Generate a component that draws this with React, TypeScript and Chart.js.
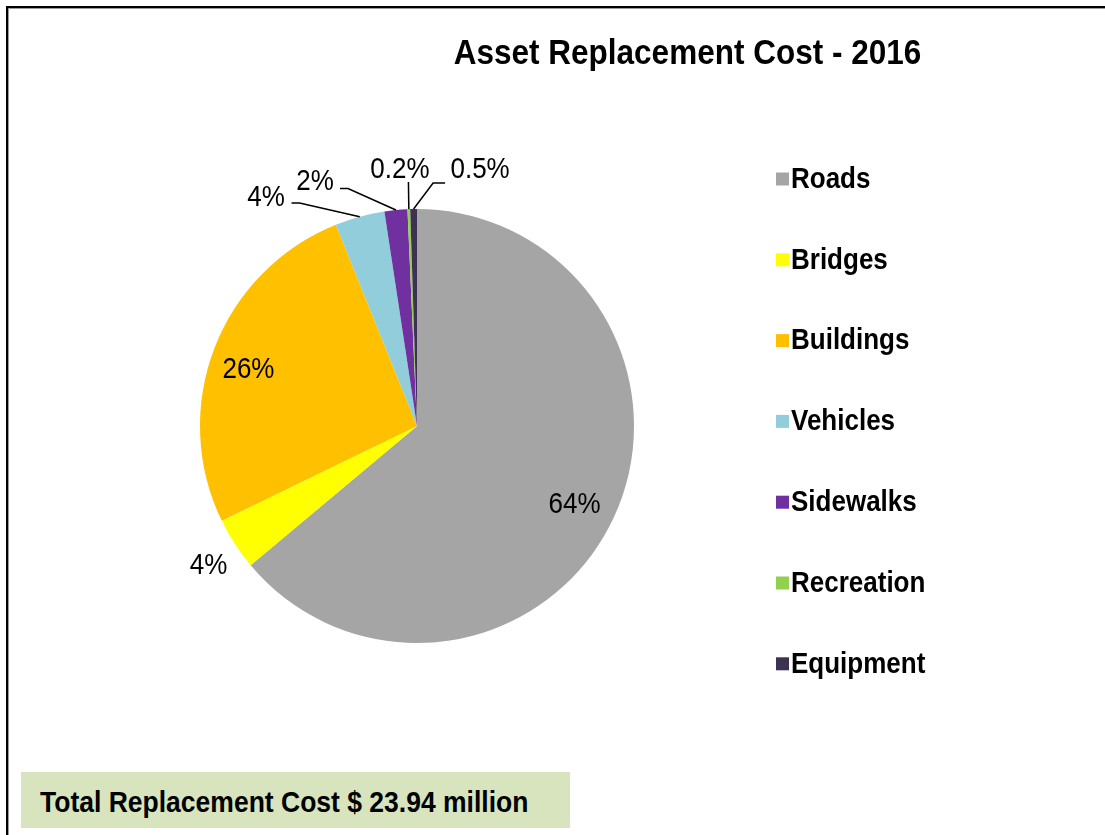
import React, { useEffect, useRef } from "react";
import { Chart, registerables } from "chart.js";

Chart.register(...registerables);

// ---------- data ----------
const TITLE = "Asset Replacement Cost - 2016";
const CATEGORIES = ["Roads", "Bridges", "Buildings", "Vehicles", "Sidewalks", "Recreation", "Equipment"];
const SHARE_PERCENT = [63.9, 3.9, 26.1, 3.7, 1.7, 0.2, 0.5];
const DISPLAY_LABELS = ["64%", "4%", "26%", "4%", "2%", "0.2%", "0.5%"];
const TOTAL_NOTE = "Total Replacement Cost $ 23.94 million";

// ---------- styles ----------
const COLORS = ["#A5A5A5", "#FFFF00", "#FFC000", "#92CDDC", "#7030A0", "#92D050", "#3F3151"];
const FONT = "Arial, 'Liberation Sans', sans-serif";
const TEXT_STRETCH_Y = 1.1;

// label placement relative to the pie: r = fraction of radius, a = angle (deg clockwise from top, default slice middle)
const LABEL_LAYOUT: any[] = [
  { r: 0.811, a: 116.5 },
  { r: 1.155, a: 236.3 },
  { r: 0.82, a: 288.7 },
  { r: 1.264, a: 326.6, leader: { ex: 33.5, ey: 6, hx: 25.5 } },
  { r: 1.223, a: 337.4, leader: { ex: 33, ey: 7.5, hx: 25 } },
  { r: 1.187, a: 356.2, leader: { ex: 8.5, ey: 13, hx: 8.5 } },
  { r: 1.219, a: 13.8, leader: { ex: -47, ey: 14, hx: -35 } },
];

const LEGEND_X = 776;
const LEGEND_Y0 = 179;
const LEGEND_STEP = 80.8;

function drawText(ctx: any, text: string, x: number, y: number) {
  ctx.save();
  ctx.translate(x, y);
  ctx.scale(1, TEXT_STRETCH_Y);
  ctx.fillText(text, 0, 0);
  ctx.restore();
}

const decorPlugin = {
  id: "decor",
  beforeDraw(chart: any) {
    const ctx = chart.ctx;
    ctx.save();
    ctx.fillStyle = "#ffffff";
    ctx.fillRect(0, 0, chart.width, chart.height);
    // outer frame (extends past right/bottom edges)
    ctx.fillStyle = "#000000";
    ctx.fillRect(6, 6, 2, chart.height - 6);
    ctx.fillRect(6, 6, chart.width - 6, 2);
    ctx.fillStyle = "#9a9a9a";
    ctx.fillRect(8, 8, 1, chart.height - 8);
    ctx.fillRect(8, 8, chart.width - 8, 1);
    ctx.restore();
  },
  afterDraw(chart: any) {
    const ctx = chart.ctx;
    ctx.save();
    // title
    ctx.fillStyle = "#000000";
    ctx.font = `bold 31.5px ${FONT}`;
    ctx.textAlign = "center";
    ctx.textBaseline = "middle";
    drawText(ctx, TITLE, 687.5, 54);

    // legend
    ctx.font = `bold 26px ${FONT}`;
    ctx.textAlign = "left";
    CATEGORIES.forEach((name, i) => {
      const cy = LEGEND_Y0 + i * LEGEND_STEP;
      ctx.fillStyle = COLORS[i];
      ctx.fillRect(LEGEND_X, cy - 6.5, 13, 13);
      ctx.fillStyle = "#000000";
      drawText(ctx, name, LEGEND_X + 15, cy + 1);
    });

    // data labels
    const meta = chart.getDatasetMeta(0);
    ctx.font = `26px ${FONT}`;
    ctx.textAlign = "center";
    ctx.textBaseline = "middle";
    ctx.strokeStyle = "#000000";
    ctx.lineWidth = 1.5;
    meta.data.forEach((arc: any, i: number) => {
      const p = arc.getProps(["x", "y", "startAngle", "endAngle", "outerRadius"], true);
      const mid = (p.startAngle + p.endAngle) / 2;
      const lay = LABEL_LAYOUT[i];
      const ang = lay.a !== undefined ? ((lay.a - 90) * Math.PI) / 180 : mid;
      const lx = p.x + Math.cos(ang) * p.outerRadius * lay.r;
      const ly = p.y + Math.sin(ang) * p.outerRadius * lay.r;
      if (lay.leader) {
        const ax = p.x + Math.cos(mid) * p.outerRadius;
        const ay = p.y + Math.sin(mid) * p.outerRadius;
        const L = lay.leader;
        ctx.beginPath();
        ctx.moveTo(lx + L.hx, ly + L.ey);
        ctx.lineTo(lx + L.ex, ly + L.ey);
        ctx.lineTo(ax, ay);
        ctx.stroke();
      }
      ctx.fillStyle = "#000000";
      drawText(ctx, DISPLAY_LABELS[i], lx, ly + 1);
    });
    ctx.restore();
  },
};

export default function App() {
  const ref = useRef<HTMLCanvasElement | null>(null);
  useEffect(() => {
    if (!ref.current) return;
    const chart = new Chart(ref.current, {
      type: "pie",
      data: {
        labels: CATEGORIES,
        datasets: [
          {
            data: SHARE_PERCENT,
            backgroundColor: COLORS,
            borderWidth: 0,
          },
        ],
      },
      options: {
        responsive: false,
        animation: false,
        events: [],
        layout: { padding: { left: 190, right: 461, top: 209, bottom: 192 } },
        plugins: {
          legend: { display: false },
          title: { display: false },
          tooltip: { enabled: false },
        },
      },
      plugins: [decorPlugin],
    });
    return () => chart.destroy();
  }, []);

  return (
    <div style={{ position: "absolute", left: 0, top: 0, width: 1105, height: 835, overflow: "hidden", background: "#fff" }}>
      <canvas ref={ref} width={1105} height={835} style={{ display: "block", width: 1105, height: 835 }} />
      <div
        style={{
          position: "absolute",
          left: 21,
          top: 772,
          width: 549,
          height: 56,
          background: "#D7E4BD",
          boxSizing: "border-box",
          paddingLeft: 19,
          lineHeight: "56px",
          fontFamily: FONT,
          fontWeight: "bold",
          fontSize: 26.5,
          color: "#000",
          whiteSpace: "nowrap",
        }}
      >
        <span style={{ display: "inline-block", transform: `scaleY(${TEXT_STRETCH_Y})`, lineHeight: "normal", verticalAlign: "middle" }}>
          {TOTAL_NOTE}
        </span>
      </div>
    </div>
  );
}
